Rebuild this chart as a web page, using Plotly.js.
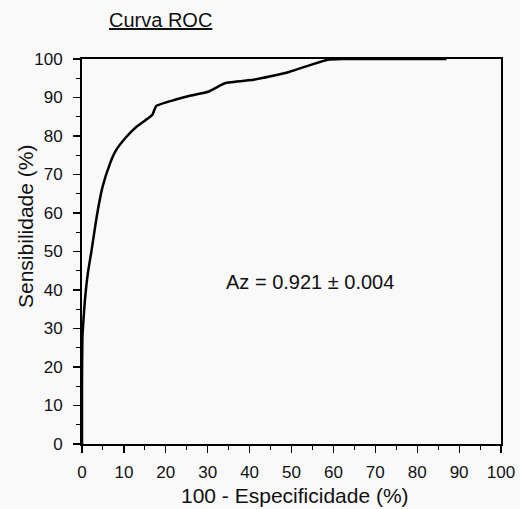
<!DOCTYPE html>
<html>
<head>
<meta charset="utf-8">
<script src="https://cdn.plot.ly/plotly-3.0.1.min.js"></script>
<style>html,body{margin:0;padding:0;background:#f9f9f9;}#chart{width:520px;height:509px;}</style>
</head>
<body>
<div id="chart"></div>
<script>
// 100 - Especificidade (%)
var fpr = [0, 0, 0.1, 0.4, 0.7, 1.4, 2.3, 3.5, 4.9, 6.7, 7.9, 10.3, 13.0, 15.8, 16.8, 17.7, 22.2, 26.0, 30.1, 34.1, 40.9, 45.0, 49.6, 54.4, 58.6, 62.0, 87.0];
// Sensibilidade (%)
var tpr = [0, 15.8, 27.9, 33.0, 37.4, 44.4, 50.4, 59.0, 66.8, 72.9, 75.9, 79.4, 82.4, 84.6, 85.5, 87.8, 89.4, 90.5, 91.5, 93.7, 94.6, 95.5, 96.7, 98.4, 99.8, 100, 100];
var tickVals = [0, 10, 20, 30, 40, 50, 60, 70, 80, 90, 100];
var tickText = ['0', '10', '20', '30', '40', '50', '60', '70', '80', '90', '100'];
var titleText = 'Curva ROC';
var xTitle = '100 - Especificidade (%)';
var yTitle = 'Sensibilidade (%)';
var azText = 'Az = 0.921 \u00b1 0.004';

var font = 'Liberation Sans, Arial, sans-serif';
var trace = {
  x: fpr, y: tpr, type: 'scatter', mode: 'lines',
  line: {color: '#000', width: 2.5, shape: 'spline', smoothing: 0.4},
  hoverinfo: 'skip', showlegend: false
};
var axisCommon = {
  range: [0, 100], tickvals: tickVals, ticktext: tickText,
  showgrid: false, zeroline: false, showline: true, linecolor: '#000', linewidth: 2,
  mirror: true, ticks: 'outside', ticklen: 7, tickwidth: 1.2, tickcolor: '#000',
  minor: {ticks: 'outside', ticklen: 4, tickwidth: 1, tickcolor: '#000', dtick: 5, showgrid: false},
  tickfont: {family: font, size: 17, color: '#111'},
  title: {text: ''}
};
var layout = {
  width: 520, height: 509,
  margin: {l: 82, r: 19, t: 59, b: 65},
  paper_bgcolor: '#f9f9f9', plot_bgcolor: '#f9f9f9',
  xaxis: Object.assign({}, axisCommon, {ticklabelstandoff: 5}),
  yaxis: Object.assign({}, axisCommon, {ticklabelstandoff: 7}),
  annotations: [
    {text: '<u>' + titleText + '</u>', xref: 'paper', yref: 'paper', x: (160 - 82) / 419, y: 1 + (59 - 20) / 385,
     xanchor: 'center', yanchor: 'middle', showarrow: false, font: {family: font, size: 20, color: '#111'}},
    {text: yTitle, xref: 'paper', yref: 'paper', x: (25 - 82) / 419, y: (444 - 227) / 385,
     xanchor: 'center', yanchor: 'middle', textangle: -90, showarrow: false, font: {family: font, size: 21, color: '#111'}},
    {text: xTitle, xref: 'paper', yref: 'paper', x: (295 - 82) / 419, y: (444 - 495) / 385,
     xanchor: 'center', yanchor: 'middle', showarrow: false, font: {family: font, size: 21, color: '#111'}},
    {text: azText, xref: 'x', yref: 'y', x: 54.4, y: 42, xanchor: 'center', yanchor: 'middle',
     showarrow: false, font: {family: font, size: 20, color: '#111'}}
  ]
};
Plotly.newPlot('chart', [trace], layout, {staticPlot: true, displayModeBar: false});
</script>
</body>
</html>
